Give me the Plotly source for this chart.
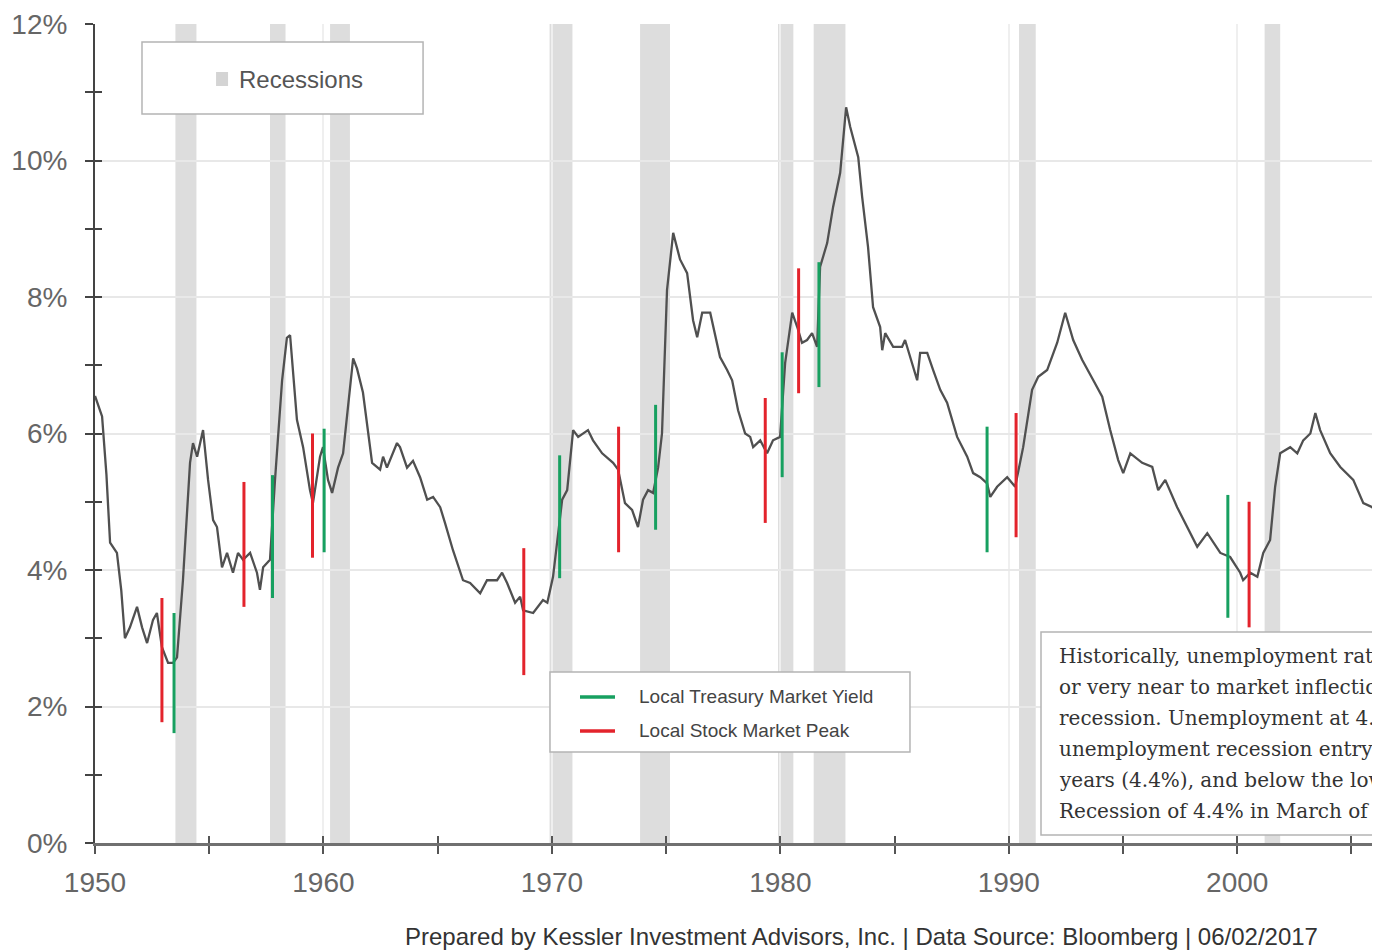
import plotly.graph_objects as go

# ---------------- data ----------------
years = [1950.00, 1950.15, 1950.31, 1950.50, 1950.66, 1950.96, 1951.15, 1951.31, 1951.53, 1951.84,
         1952.06, 1952.28, 1952.54, 1952.71, 1952.93, 1953.20, 1953.42, 1953.59, 1953.85, 1954.16,
         1954.29, 1954.47, 1954.73, 1954.95, 1955.17, 1955.34, 1955.56, 1955.78, 1956.04, 1956.26,
         1956.48, 1956.79, 1957.09, 1957.22, 1957.36, 1957.66, 1957.88, 1958.19, 1958.40, 1958.54,
         1958.84, 1959.11, 1959.41, 1959.54, 1959.85, 1959.98, 1960.20, 1960.38, 1960.64, 1960.86,
         1961.16, 1961.30, 1961.47, 1961.73, 1962.13, 1962.48, 1962.61, 1962.78, 1963.22, 1963.35,
         1963.66, 1963.92, 1964.23, 1964.54, 1964.80, 1965.11, 1965.32, 1965.67, 1966.11, 1966.42,
         1966.86, 1967.16, 1967.60, 1967.82, 1968.04, 1968.39, 1968.61, 1968.74, 1969.18, 1969.61,
         1969.80, 1970.05, 1970.45, 1970.67, 1970.93, 1971.15, 1971.58, 1971.80, 1972.20, 1972.68,
         1972.90, 1973.20, 1973.51, 1973.77, 1973.99, 1974.21, 1974.43, 1974.65, 1974.82, 1975.04,
         1975.31, 1975.61, 1975.92, 1976.18, 1976.36, 1976.58, 1976.93, 1977.06, 1977.36, 1977.67,
         1977.89, 1978.15, 1978.46, 1978.68, 1978.81, 1979.12, 1979.42, 1979.68, 1979.99, 1980.21,
         1980.52, 1980.74, 1980.95, 1981.17, 1981.39, 1981.61, 1981.74, 1982.05, 1982.31, 1982.62,
         1982.75, 1982.88, 1983.06, 1983.41, 1983.58, 1983.84, 1984.06, 1984.37, 1984.46, 1984.59,
         1984.94, 1985.33, 1985.46, 1985.68, 1985.99, 1986.12, 1986.43, 1986.69, 1987.00, 1987.30,
         1987.74, 1988.18, 1988.44, 1988.75, 1989.05, 1989.19, 1989.49, 1989.93, 1990.28, 1990.63,
         1991.02, 1991.29, 1991.68, 1992.12, 1992.47, 1992.82, 1993.21, 1993.70, 1994.09, 1994.44,
         1994.79, 1995.01, 1995.32, 1995.84, 1996.28, 1996.54, 1996.85, 1997.37, 1997.81, 1998.25,
         1998.69, 1999.26, 1999.69, 2000.13, 2000.26, 2000.57, 2000.88, 2001.14, 2001.44, 2001.66,
         2001.88, 2002.32, 2002.63, 2002.89, 2003.20, 2003.42, 2003.63, 2004.07, 2004.51, 2005.08,
         2005.52, 2005.91, 2006.30]
rates = [6.55, 6.40, 6.25, 5.40, 4.40, 4.25, 3.70, 3.00, 3.16, 3.46,
         3.16, 2.93, 3.27, 3.37, 2.87, 2.64, 2.64, 2.72, 3.85, 5.57,
         5.86, 5.66, 6.05, 5.32, 4.73, 4.63, 4.04, 4.25, 3.96, 4.25,
         4.15, 4.25, 3.96, 3.71, 4.04, 4.15, 5.32, 6.78, 7.40, 7.44,
         6.20, 5.80, 5.17, 4.98, 5.66, 5.80, 5.32, 5.13, 5.50, 5.71,
         6.64, 7.10, 6.95, 6.60, 5.57, 5.47, 5.66, 5.50, 5.86, 5.80,
         5.50, 5.60, 5.36, 5.03, 5.07, 4.92, 4.69, 4.29, 3.85, 3.81,
         3.66, 3.85, 3.85, 3.96, 3.81, 3.52, 3.61, 3.41, 3.37, 3.56,
         3.52, 3.90, 5.03, 5.17, 6.05, 5.95, 6.05, 5.90, 5.71, 5.57,
         5.47, 4.98, 4.88, 4.63, 5.03, 5.17, 5.13, 5.50, 6.00, 8.10,
         8.94, 8.55, 8.35, 7.66, 7.41, 7.77, 7.77, 7.56, 7.12, 6.93,
         6.78, 6.34, 6.00, 5.95, 5.80, 5.90, 5.71, 5.90, 5.95, 7.03,
         7.77, 7.56, 7.33, 7.37, 7.47, 7.27, 8.44, 8.79, 9.32, 9.82,
         10.34, 10.78, 10.49, 10.05, 9.47, 8.73, 7.85, 7.56, 7.22, 7.47,
         7.27, 7.27, 7.37, 7.12, 6.78, 7.18, 7.18, 6.93, 6.64, 6.45,
         5.95, 5.66, 5.42, 5.36, 5.27, 5.07, 5.22, 5.36, 5.22, 5.80,
         6.64, 6.83, 6.93, 7.33, 7.77, 7.37, 7.08, 6.78, 6.54, 6.05,
         5.61, 5.42, 5.71, 5.57, 5.51, 5.17, 5.32, 4.92, 4.63, 4.34,
         4.54, 4.25, 4.19, 3.96, 3.85, 3.96, 3.90, 4.25, 4.44, 5.22,
         5.71, 5.80, 5.71, 5.90, 6.00, 6.30, 6.05, 5.71, 5.51, 5.32,
         4.98, 4.92, 4.70]

recession_start = [1953.52, 1957.66, 1960.29, 1969.90, 1973.86, 1979.90, 1981.46, 1990.45, 2001.20]
recession_end = [1954.44, 1958.34, 1961.16, 1970.90, 1975.17, 1980.57, 1982.85, 1991.18, 2001.88]

treasury_dates = [1953.46, 1957.77, 1960.03, 1970.34, 1974.54, 1980.08, 1981.69, 1989.05, 1999.59]
treasury_low = [1.61, 3.59, 4.26, 3.88, 4.59, 5.36, 6.68, 4.26, 3.30]
treasury_high = [3.37, 5.39, 6.07, 5.68, 6.42, 7.19, 8.51, 6.10, 5.10]

stock_dates = [1952.93, 1956.52, 1959.52, 1968.77, 1972.92, 1979.34, 1980.80, 1990.32, 2000.52]
stock_low = [1.77, 3.46, 4.18, 2.46, 4.26, 4.69, 6.59, 4.48, 3.16]
stock_high = [3.59, 5.29, 6.00, 4.32, 6.10, 6.52, 8.42, 6.30, 5.00]

x_range = [1950, 2005.9]
y_range = [0, 12]

note_lines = [
    "Historically, unemployment rates have bottomed at",
    "or very near to market inflection points ahead of a",
    "recession. Unemployment at 4.3% is below the average",
    "unemployment recession entry point over the past 70",
    "years (4.4%), and below the low heading into the Great",
    "Recession of 4.4% in March of 2007.",
]
source_text = "Prepared by Kessler Investment Advisors, Inc. | Data Source: Bloomberg | 06/02/2017"

GREEN = "#17a060"
RED = "#e3232c"
FONT = "Liberation Sans"


def segments(dates, lo, hi):
    xs, ys = [], []
    for d, l, h in zip(dates, lo, hi):
        xs += [d, d, None]
        ys += [l, h, None]
    return xs, ys


fig = go.Figure()

for s, e in zip(recession_start, recession_end):
    fig.add_vrect(x0=s, x1=e, fillcolor="#dddddd", opacity=1, line_width=0, layer="below")

fig.add_trace(go.Scatter(x=years, y=rates, mode="lines", name="Unemployment Rate",
                         line=dict(color="#505050", width=2.3), showlegend=False))

tx, ty = segments(treasury_dates, treasury_low, treasury_high)
fig.add_trace(go.Scatter(x=tx, y=ty, mode="lines", name="Local Treasury Market Yield",
                         line=dict(color=GREEN, width=3), showlegend=False))
sx, sy = segments(stock_dates, stock_low, stock_high)
fig.add_trace(go.Scatter(x=sx, y=sy, mode="lines", name="Local Stock Market Peak",
                         line=dict(color=RED, width=3), showlegend=False))

# invisible trace to carry the overlay axes (inner half of crossing ticks)
fig.add_trace(go.Scatter(x=[years[0]], y=[rates[0]], xaxis="x2", yaxis="y2", mode="markers",
                         marker=dict(opacity=0), showlegend=False, hoverinfo="skip"))

fig.update_layout(
    width=1372, height=951,
    margin=dict(l=95, r=0, t=24, b=108),
    paper_bgcolor="white", plot_bgcolor="white",
    font=dict(family=FONT, color="#555555"),
    xaxis=dict(range=x_range, dtick=10, tick0=1950, ticks="outside", ticklen=8, tickwidth=1.5,
               tickcolor="#555", minor=dict(dtick=5, ticks="outside", ticklen=8, tickcolor="#555",
                                           showgrid=False),
               showgrid=True, gridcolor="#efefef", gridwidth=2, zeroline=False,
               showline=True, linecolor="#707070", linewidth=3,
               tickfont=dict(size=28, color="#666666"), ticklabelstandoff=4),
    yaxis=dict(range=y_range, dtick=2, ticksuffix="%", ticks="outside", ticklen=8, tickwidth=1.5,
               tickcolor="#444", minor=dict(dtick=1, ticks="outside", ticklen=8, tickcolor="#444",
                                           showgrid=False),
               showgrid=True, gridcolor="#e8e8e8", gridwidth=2, zeroline=False,
               showline=True, linecolor="#444444", linewidth=2,
               tickfont=dict(size=28, color="#666666"), ticklabelstandoff=12),
    xaxis2=dict(overlaying="x", matches="x", anchor="y2", side="bottom", ticks="inside",
                ticklen=7, tickwidth=1.5, tickcolor="#555", dtick=5, tick0=1950,
                showticklabels=False, showgrid=False, zeroline=False, showline=False),
    yaxis2=dict(overlaying="y", matches="y", anchor="x2", side="left", ticks="inside",
                ticklen=7, tickwidth=1.5, tickcolor="#444", dtick=1,
                showticklabels=False, showgrid=False, zeroline=False, showline=False),
    showlegend=False,
)

# ---- "Recessions" key box ----
fig.add_shape(type="rect", xref="paper", yref="paper", x0=0.0368, x1=0.2569, y0=0.890, y1=0.978,
              line=dict(color="#b4b4b4", width=1.5), fillcolor="white", layer="above")
fig.add_shape(type="rect", xref="paper", yref="paper", x0=0.0948, x1=0.1042, y0=0.9243, y1=0.9414,
              line=dict(width=0), fillcolor="#d4d4d4", layer="above")
fig.add_annotation(xref="paper", yref="paper", x=0.1112, y=0.9328, xanchor="left", yanchor="middle",
                   text="Recessions", showarrow=False, font=dict(size=24, color="#555555", family=FONT))

# ---- line key box ----
fig.add_shape(type="rect", xref="paper", yref="paper", x0=0.3563, x1=0.6382, y0=0.1111, y1=0.2088,
              line=dict(color="#b4b4b4", width=1.5), fillcolor="white", layer="above")
fig.add_shape(type="line", xref="paper", yref="paper", x0=0.3798, x1=0.4072, y0=0.1783, y1=0.1783,
              line=dict(color=GREEN, width=3.5), layer="above")
fig.add_shape(type="line", xref="paper", yref="paper", x0=0.3798, x1=0.4072, y0=0.1368, y1=0.1368,
              line=dict(color=RED, width=3.5), layer="above")
fig.add_annotation(xref="paper", yref="paper", x=0.4244, y=0.1783, xanchor="left", yanchor="middle",
                   text="Local Treasury Market Yield", showarrow=False,
                   font=dict(size=19, color="#444444", family=FONT))
fig.add_annotation(xref="paper", yref="paper", x=0.4244, y=0.1368, xanchor="left", yanchor="middle",
                   text="Local Stock Market Peak", showarrow=False,
                   font=dict(size=19, color="#444444", family=FONT))

# ---- note box (runs off the right edge, as in the cropped original) ----
fig.add_shape(type="rect", xref="paper", yref="paper", x0=0.7408, x1=1.3, y0=0.0098, y1=0.2576,
              line=dict(color="#b4b4b4", width=1.5), fillcolor="white", layer="above")
note_y = [0.2283, 0.1905, 0.1526, 0.1148, 0.0769, 0.0391]
for line_text, yy in zip(note_lines, note_y):
    fig.add_annotation(xref="paper", yref="paper", x=0.7533, y=yy, xanchor="left", yanchor="middle",
                       align="left", text=line_text, showarrow=False,
                       font=dict(size=20, color="#333333", family="DejaVu Serif"))

# ---- source line ----
fig.add_annotation(xref="paper", yref="paper", x=0.6006, y=-0.1136, xanchor="center", yanchor="middle",
                   text=source_text, showarrow=False, font=dict(size=24, color="#333333", family=FONT))

fig.write_html("out.html", config={"displayModeBar": False},
               post_script="document.body.style.margin='0px';")
